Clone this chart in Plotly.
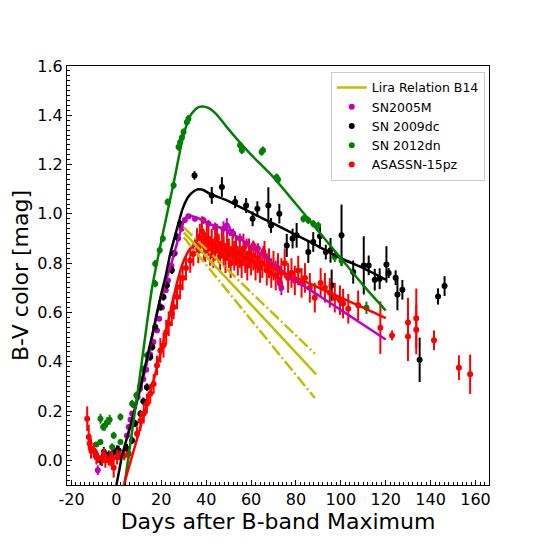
import plotly.graph_objects as go

# --- fitted curves ---
fit_2012dn_x = [3.6, 10, 15.9, 20.7, 25.4, 29.9, 33, 36, 38.1, 41, 45, 49.2, 55, 60, 69.8, 80, 90, 100, 110, 120]
fit_2012dn_y = [-0.1, 0.31, 0.70, 0.92, 1.12, 1.32, 1.40, 1.43, 1.436, 1.43, 1.40, 1.352, 1.29, 1.24, 1.15, 1.04, 0.93, 0.82, 0.71, 0.608]

fit_2009dc_x = [0, 1.5, 2.5, 5, 8, 11, 14, 17, 19.6, 22, 24, 27, 29.5, 31.4, 33, 35, 36.6, 38.5, 42, 49.2, 60, 70, 86.2, 100, 110, 120]
fit_2009dc_y = [-0.1, -0.03, 0.02, 0.1, 0.2, 0.31, 0.43, 0.55, 0.66, 0.75, 0.838, 0.94, 1.02, 1.06, 1.08, 1.095, 1.1, 1.098, 1.08, 1.055, 1.005, 0.96, 0.886, 0.82, 0.78, 0.733]

fit_2005M_x = [5, 8, 11, 14, 18.1, 21, 24, 27, 29.9, 31, 32.1, 34, 38.8, 41, 49.2, 55, 61, 67.7, 77.3, 90, 100, 110, 120]
fit_2005M_y = [0.1, 0.2, 0.3, 0.41, 0.6, 0.7, 0.784, 0.88, 0.967, 0.985, 0.995, 0.99, 0.974, 0.96, 0.935, 0.9, 0.86, 0.815, 0.744, 0.67, 0.61, 0.55, 0.49]

fit_15pz_x = [3.3, 10, 16.6, 22, 27, 30, 33, 36, 39, 45, 55, 65, 75, 86, 100, 110, 120]
fit_15pz_y = [-0.1, 0.112, 0.325, 0.52, 0.72, 0.81, 0.86, 0.877, 0.88, 0.862, 0.83, 0.795, 0.76, 0.718, 0.66, 0.62, 0.577]

# Lira relation (Burns et al. 2014) with upper / lower bounds
lira_x = [30, 89]
lira_y = [0.925, 0.349]
lira_up_x = [30, 88.4]
lira_up_y = [0.945, 0.433]
lira_lo_x = [30, 88.4]
lira_lo_y = [0.905, 0.253]

# --- photometry ---
sn2005M_x = [-9.3, -8.3, 4.7, 5.5, 6.3, 7, 8, 9.5, 10.5, 12, 13.3, 15, 16.5, 18.1, 19.1, 20.3, 22, 23, 24.5, 26, 27.5, 29,
             30.5, 32.1, 35, 38.8, 41, 44, 47.7, 49.2, 50.5, 52, 55, 58, 61, 63, 65.5, 67.7, 72.9, 73.5]
sn2005M_y = [0.03, -0.04, 0.10, 0.135, 0.165, 0.19, 0.223, 0.257, 0.29, 0.33, 0.368, 0.43, 0.48, 0.527, 0.575, 0.62, 0.69, 0.73,
             0.79, 0.84, 0.9, 0.94, 0.975, 0.99, 0.98, 0.974, 0.96, 0.945, 0.94, 0.953, 0.93, 0.92, 0.90, 0.88, 0.872, 0.86,
             0.845, 0.811, 0.717, 0.70]
sn2005M_err = [0.015, 0.02, 0.01, 0.01, 0.01, 0.01, 0.01, 0.01, 0.01, 0.01, 0.01, 0.01, 0.01, 0.01, 0.01, 0.01, 0.01, 0.01,
               0.01, 0.01, 0.01, 0.01, 0.01, 0.01, 0.01, 0.015, 0.015, 0.02, 0.03, 0.03, 0.02, 0.02, 0.02, 0.02, 0.02, 0.02,
               0.025, 0.03, 0.03, 0.03]

sn2009dc_x = [-7.1, -5.6, -4.1, -3.4, -1.5, 0.3, 1.0, 4.7, 7, 8.4, 10.7, 12, 13.6, 15.1, 16, 17.3, 19.6, 21, 22.5, 24.7, 25.5,
              27, 28.4, 34.8, 42.5, 47, 52.9, 57.8, 60.7, 62.8, 67.7, 68.9, 72.6, 75.9, 78.5, 80.3, 85.5, 87.7, 90.7, 93.3,
              95.4, 95.9, 100.3, 105.5, 110.2, 112.4, 115.1, 117.3, 120.3, 121.3, 124.4, 125.2, 127.4, 135.1, 143.3, 146.2]
sn2009dc_y = [0.0, 0.034, 0.013, 0.02, 0.03, 0.041, 0.04, 0.047, 0.081, 0.15, 0.189, 0.24, 0.297, 0.419, 0.46, 0.541, 0.622,
              0.663, 0.71, 0.771, 0.838, 0.906, 0.96, 1.156, 1.075, 1.109, 1.048, 1.034, 0.98, 1.021, 1.034, 0.953, 1.001,
              0.872, 0.9, 0.913, 0.845, 0.886, 0.909, 0.845, 0.852, 0.71, 0.913, 0.764, 0.791, 0.791, 0.733, 0.737, 0.795,
              0.76, 0.741, 0.673, 0.692, 0.408, 0.665, 0.707]
sn2009dc_err = [0.02, 0.02, 0.02, 0.02, 0.02, 0.02, 0.02, 0.02, 0.015, 0.015, 0.015, 0.015, 0.015, 0.015, 0.015, 0.015, 0.015,
                0.015, 0.015, 0.015, 0.015, 0.015, 0.015, 0.017, 0.034, 0.04, 0.025, 0.03, 0.03, 0.03, 0.074, 0.03, 0.04,
                0.047, 0.04, 0.05, 0.044, 0.04, 0.05, 0.03, 0.05, 0.064, 0.125, 0.047, 0.118, 0.04, 0.044, 0.042, 0.074,
                0.02, 0.03, 0.064, 0.04, 0.09, 0.033, 0.04]

sn2012dn_x = [-8.9, -7.1, -7.1, -5.9, -5.2, -4.1, -3, -1.9, -1.2, 1.8, 1.8, 7, 8.9, 10.5, 12, 13.6, 17.3, 17.3, 19.3, 20.7,
              22.8, 25.5, 27.7, 28.4, 29.2, 29.9, 31.4, 32.1, 55.1, 55.9, 64.7, 65.3, 71.4, 72, 83.3, 85.5, 87.7, 89.9,
              97.3, 100.3, 111.4]
sn2012dn_y = [0.064, 0.169, 0.074, 0.135, 0.14, 0.155, 0.165, 0.054, 0.101, 0.176, 0.074, 0.23, 0.264, 0.30, 0.37, 0.426,
              0.717, 0.798, 0.852, 0.9, 1.048, 1.116, 1.271, 1.291, 1.31, 1.332, 1.372, 1.386, 1.278, 1.258, 1.251, 1.258,
              1.149, 1.14, 0.98, 0.974, 0.96, 0.953, 0.825, 0.811, 0.619]
sn2012dn_err = [0.01, 0.02, 0.01, 0.015, 0.02, 0.02, 0.02, 0.015, 0.015, 0.015, 0.01, 0.015, 0.015, 0.015, 0.015, 0.015,
                0.015, 0.015, 0.015, 0.015, 0.015, 0.015, 0.015, 0.015, 0.015, 0.015, 0.015, 0.015, 0.015, 0.015, 0.015,
                0.015, 0.015, 0.015, 0.015, 0.015, 0.015, 0.015, 0.02, 0.02, 0.025]

asassn15pz_x = [-13, -12.3, -11.9, -11.3, -10.1, -8.9, -8.2, -6.4, -5.5, -4.9, -3.4, -2.7, -1.9, -1.2, 0.3, 1.5, 3.5, 5.5,
                9.2, 10.7, 12.2, 13.6, 15.1, 16.6, 18.1, 19.6, 21, 22.2, 23.3, 24.7, 25.5, 27, 28.4, 29.5, 31, 32.9, 34.3,
                35.9, 36.5, 37.2, 38.1, 39.0, 39.6, 40.3, 41.0, 41.8, 42.5, 43.2, 44.0, 44.8, 45.5, 46.2, 47.0, 47.8, 48.6,
                49.3, 50.1, 50.9, 51.7, 52.5, 53.3, 54.1, 55.0, 55.8, 56.6, 57.4, 58.3, 59.1, 60.0, 61.0, 62.0, 63.0, 64.0,
                65.0, 66.0, 67.0, 68.0, 69.0, 70.0, 71.0, 72.0, 73.5, 75.0, 76.5, 78.0, 79.5, 81.0, 82.5, 84.0, 86.2, 88.4,
                91.0, 92.9, 95.1, 97.3, 99.6, 101.0, 103.3, 107.7, 117.6, 122.8, 129.9, 129.9, 133.6, 133.6, 141.5, 152.6,
                157.6]
asassn15pz_y = [0.169, 0.095, 0.068, 0.047, 0.041, 0.013, 0.01, 0.007, 0.02, 0.0, 0.0, 0.007, 0.007, -0.03, 0.013, 0.02,
                0.02, 0.027, 0.108, 0.16, 0.19, 0.23, 0.27, 0.31, 0.385, 0.446, 0.467, 0.52, 0.554, 0.595, 0.622, 0.663,
                0.703, 0.74, 0.78, 0.811, 0.838, 0.892, 0.86, 0.90, 0.93, 0.87, 0.865, 0.90, 0.89, 0.85, 0.88, 0.84, 0.87,
                0.90, 0.86, 0.83, 0.88, 0.85, 0.82, 0.87, 0.84, 0.80, 0.86, 0.83, 0.85, 0.81, 0.84, 0.80, 0.86, 0.82, 0.79,
                0.84, 0.81, 0.83, 0.79, 0.82, 0.78, 0.80, 0.83, 0.77, 0.80, 0.76, 0.79, 0.75, 0.78, 0.76, 0.80, 0.74, 0.76,
                0.73, 0.77, 0.72, 0.74, 0.70, 0.66, 0.72, 0.70, 0.68, 0.66, 0.65, 0.636, 0.615, 0.629, 0.538, 0.507, 0.559,
                0.503, 0.577, 0.53, 0.487, 0.376, 0.349]
asassn15pz_err = [0.05, 0.05, 0.04, 0.04, 0.03, 0.03, 0.02, 0.03, 0.03, 0.03, 0.02, 0.03, 0.03, 0.04, 0.03, 0.02, 0.02,
                  0.02, 0.03, 0.04, 0.04, 0.04, 0.04, 0.04, 0.04, 0.05, 0.05, 0.05, 0.05, 0.05, 0.05, 0.05, 0.05, 0.05,
                  0.05, 0.05, 0.05, 0.05, 0.06, 0.06, 0.06, 0.06, 0.06, 0.06, 0.06, 0.06, 0.06, 0.06, 0.06, 0.06, 0.06,
                  0.06, 0.06, 0.06, 0.06, 0.06, 0.06, 0.06, 0.06, 0.06, 0.06, 0.06, 0.06, 0.06, 0.06, 0.06, 0.06, 0.06,
                  0.06, 0.06, 0.06, 0.06, 0.06, 0.06, 0.06, 0.06, 0.06, 0.06, 0.06, 0.06, 0.06, 0.06, 0.06, 0.06, 0.06,
                  0.06, 0.06, 0.06, 0.06, 0.06, 0.06, 0.06, 0.06, 0.06, 0.06, 0.06, 0.06, 0.06, 0.06, 0.107, 0.02, 0.1,
                  0.1, 0.12, 0.1, 0.04, 0.05, 0.08]

# tick labels
x_ticks = [-20, 0, 20, 40, 60, 80, 100, 120, 140, 160]
x_tick_text = ["-20", "0", "20", "40", "60", "80", "100", "120", "140", "160"]
y_ticks = [0.0, 0.2, 0.4, 0.6, 0.8, 1.0, 1.2, 1.4, 1.6]
y_tick_text = ["0.0", "0.2", "0.4", "0.6", "0.8", "1.0", "1.2", "1.4", "1.6"]

MAG = "#bf00bf"
GRN = "#008000"
RED = "#ff0000"
YEL = "#bfbf00"

fig = go.Figure()

# data points first (fits are drawn over them)
def puntos(x, y, err, cor, nome, rank):
    fig.add_trace(go.Scatter(
        x=x, y=y, mode="markers", name=nome, legendrank=rank,
        marker=dict(color=cor, size=6),
        error_y=dict(type="data", array=err, color=cor, thickness=2, width=0),
    ))

puntos(sn2005M_x, sn2005M_y, sn2005M_err, MAG, "SN2005M", 2)
puntos(sn2009dc_x, sn2009dc_y, sn2009dc_err, "black", "SN 2009dc", 3)
puntos(sn2012dn_x, sn2012dn_y, sn2012dn_err, GRN, "SN 2012dn", 4)
puntos(asassn15pz_x, asassn15pz_y, asassn15pz_err, RED, "ASASSN-15pz", 5)

def curva(x, y, cor):
    fig.add_trace(go.Scatter(x=x, y=y, mode="lines", showlegend=False,
                             line=dict(color=cor, width=2.5, shape="spline", smoothing=0.6)))

curva(fit_2005M_x, fit_2005M_y, MAG)
curva(fit_2009dc_x, fit_2009dc_y, "black")
curva(fit_2012dn_x, fit_2012dn_y, GRN)
curva(fit_15pz_x, fit_15pz_y, RED)

# Lira relation
fig.add_trace(go.Scatter(x=lira_x, y=lira_y, mode="lines", name="Lira Relation B14", legendrank=1,
                         line=dict(color=YEL, width=2.5)))
for lx, ly in [(lira_up_x, lira_up_y), (lira_lo_x, lira_lo_y)]:
    fig.add_trace(go.Scatter(x=lx, y=ly, mode="lines", showlegend=False,
                             line=dict(color=YEL, width=2.5, dash="12px,3px,2px,3px")))

# the page body adds an 8px margin, so the figure is a bit smaller than the window
fig.update_layout(
    width=529, height=529,
    margin=dict(l=59, r=48, t=58, b=52),
    plot_bgcolor="white", paper_bgcolor="white",
    font=dict(family="DejaVu Sans", color="black", size=16),
    legend=dict(x=0.625, y=0.986, xanchor="left", yanchor="top",
                bgcolor="white", bordercolor="#cccccc", borderwidth=1,
                font=dict(size=12.5)),
)
fig.update_xaxes(
    range=[-22, 166], tickvals=x_ticks, ticktext=x_tick_text, automargin=False,
    showgrid=False, zeroline=False, showline=True, linecolor="black", linewidth=1, mirror=True,
    ticks="inside", ticklen=5, tickcolor="black",
    minor=dict(ticks="inside", dtick=2, ticklen=3, tickcolor="black"),
    title=dict(text="Days after B-band Maximum", font=dict(size=22), standoff=4),
)
fig.update_yaxes(
    range=[-0.1, 1.6], tickvals=y_ticks, ticktext=y_tick_text, automargin=False,
    showgrid=False, zeroline=False, showline=True, linecolor="black", linewidth=1, mirror=True,
    ticks="inside", ticklen=5, tickcolor="black",
    minor=dict(ticks="inside", dtick=0.02, ticklen=3, tickcolor="black"),
    title=dict(text="B-V color [mag]", font=dict(size=22), standoff=6),
)

fig.write_html("out.html")
